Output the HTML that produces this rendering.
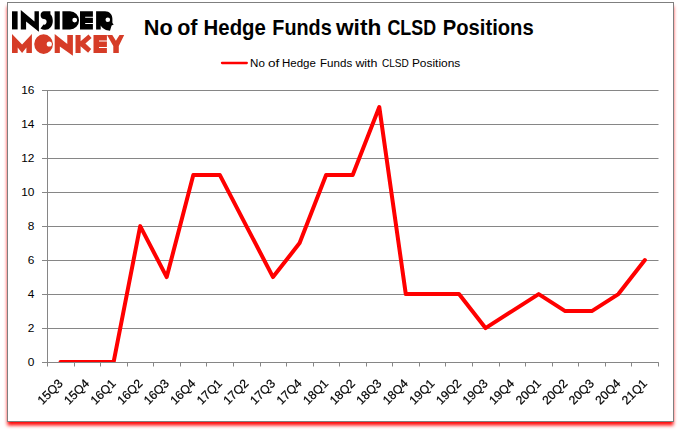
<!DOCTYPE html>
<html><head><meta charset="utf-8"><style>
html,body{margin:0;padding:0;background:#fff;}
body{width:680px;height:433px;position:relative;overflow:hidden;font-family:"Liberation Sans",sans-serif;}
#box{position:absolute;left:7px;top:2px;width:665px;height:418px;border:1px solid #7f7f7f;background:#fff;box-shadow:-0.4px 4.4px 3.6px 0px #ff0000;}
.ax{font-family:"Liberation Sans",sans-serif;font-size:11px;fill:#000;}
.xl{font-family:"Liberation Sans",sans-serif;font-size:12.2px;fill:#000;stroke:#000;stroke-width:0.2px;}
.lg{font-family:"Liberation Sans",sans-serif;font-size:11.65px;fill:#000;}
.tt{font-family:"Liberation Sans",sans-serif;font-size:21.5px;font-weight:bold;fill:#000;}
</style></head><body>
<div id="box"></div>
<svg width="680" height="433" viewBox="0 0 680 433" style="position:absolute;left:0;top:0">
<defs><clipPath id="pc"><rect x="47.5" y="80.5" width="611.0" height="282.0"/></clipPath></defs>
<line x1="42.0" y1="362.5" x2="658.5" y2="362.5" stroke="#868686" stroke-width="1"/>
<line x1="42.0" y1="328.5" x2="658.5" y2="328.5" stroke="#868686" stroke-width="1"/>
<line x1="42.0" y1="294.5" x2="658.5" y2="294.5" stroke="#868686" stroke-width="1"/>
<line x1="42.0" y1="260.5" x2="658.5" y2="260.5" stroke="#868686" stroke-width="1"/>
<line x1="42.0" y1="226.5" x2="658.5" y2="226.5" stroke="#868686" stroke-width="1"/>
<line x1="42.0" y1="192.5" x2="658.5" y2="192.5" stroke="#868686" stroke-width="1"/>
<line x1="42.0" y1="158.5" x2="658.5" y2="158.5" stroke="#868686" stroke-width="1"/>
<line x1="42.0" y1="124.5" x2="658.5" y2="124.5" stroke="#868686" stroke-width="1"/>
<line x1="42.0" y1="90.5" x2="658.5" y2="90.5" stroke="#868686" stroke-width="1"/>
<line x1="47.5" y1="90.5" x2="47.5" y2="362.5" stroke="#868686" stroke-width="1"/>
<line x1="47.5" y1="362.5" x2="47.5" y2="366.5" stroke="#868686" stroke-width="1"/>
<line x1="74.5" y1="362.5" x2="74.5" y2="366.5" stroke="#868686" stroke-width="1"/>
<line x1="100.5" y1="362.5" x2="100.5" y2="366.5" stroke="#868686" stroke-width="1"/>
<line x1="127.5" y1="362.5" x2="127.5" y2="366.5" stroke="#868686" stroke-width="1"/>
<line x1="153.5" y1="362.5" x2="153.5" y2="366.5" stroke="#868686" stroke-width="1"/>
<line x1="180.5" y1="362.5" x2="180.5" y2="366.5" stroke="#868686" stroke-width="1"/>
<line x1="206.5" y1="362.5" x2="206.5" y2="366.5" stroke="#868686" stroke-width="1"/>
<line x1="233.5" y1="362.5" x2="233.5" y2="366.5" stroke="#868686" stroke-width="1"/>
<line x1="260.5" y1="362.5" x2="260.5" y2="366.5" stroke="#868686" stroke-width="1"/>
<line x1="286.5" y1="362.5" x2="286.5" y2="366.5" stroke="#868686" stroke-width="1"/>
<line x1="313.5" y1="362.5" x2="313.5" y2="366.5" stroke="#868686" stroke-width="1"/>
<line x1="339.5" y1="362.5" x2="339.5" y2="366.5" stroke="#868686" stroke-width="1"/>
<line x1="366.5" y1="362.5" x2="366.5" y2="366.5" stroke="#868686" stroke-width="1"/>
<line x1="392.5" y1="362.5" x2="392.5" y2="366.5" stroke="#868686" stroke-width="1"/>
<line x1="419.5" y1="362.5" x2="419.5" y2="366.5" stroke="#868686" stroke-width="1"/>
<line x1="445.5" y1="362.5" x2="445.5" y2="366.5" stroke="#868686" stroke-width="1"/>
<line x1="472.5" y1="362.5" x2="472.5" y2="366.5" stroke="#868686" stroke-width="1"/>
<line x1="499.5" y1="362.5" x2="499.5" y2="366.5" stroke="#868686" stroke-width="1"/>
<line x1="525.5" y1="362.5" x2="525.5" y2="366.5" stroke="#868686" stroke-width="1"/>
<line x1="552.5" y1="362.5" x2="552.5" y2="366.5" stroke="#868686" stroke-width="1"/>
<line x1="578.5" y1="362.5" x2="578.5" y2="366.5" stroke="#868686" stroke-width="1"/>
<line x1="605.5" y1="362.5" x2="605.5" y2="366.5" stroke="#868686" stroke-width="1"/>
<line x1="631.5" y1="362.5" x2="631.5" y2="366.5" stroke="#868686" stroke-width="1"/>
<line x1="658.5" y1="362.5" x2="658.5" y2="366.5" stroke="#868686" stroke-width="1"/>
<text transform="translate(34.4,365.9) scale(1.084,1)" text-anchor="end" class="ax">0</text>
<text transform="translate(34.4,331.9) scale(1.084,1)" text-anchor="end" class="ax">2</text>
<text transform="translate(34.4,297.9) scale(1.084,1)" text-anchor="end" class="ax">4</text>
<text transform="translate(34.4,263.9) scale(1.084,1)" text-anchor="end" class="ax">6</text>
<text transform="translate(34.4,229.9) scale(1.084,1)" text-anchor="end" class="ax">8</text>
<text transform="translate(34.4,195.9) scale(1.084,1)" text-anchor="end" class="ax">10</text>
<text transform="translate(34.4,161.9) scale(1.084,1)" text-anchor="end" class="ax">12</text>
<text transform="translate(34.4,127.9) scale(1.084,1)" text-anchor="end" class="ax">14</text>
<text transform="translate(34.4,93.9) scale(1.084,1)" text-anchor="end" class="ax">16</text>
<polyline points="60.5,362.1 87.0,362.1 113.6,362.1 140.2,226.1 166.7,277.1 193.3,175.1 219.9,175.1 246.4,226.1 273.0,277.1 299.6,243.1 326.1,175.1 352.7,175.1 379.3,107.1 405.8,294.1 432.4,294.1 459.0,294.1 485.5,328.1 512.1,311.1 538.7,294.1 565.2,311.1 591.8,311.1 618.4,294.1 644.9,260.1" fill="none" stroke="#ff0000" stroke-width="4" stroke-linejoin="round" stroke-linecap="round" clip-path="url(#pc)"/>
<line x1="42.0" y1="362.5" x2="658.5" y2="362.5" stroke="#868686" stroke-width="1"/>
<line x1="222" y1="63" x2="246.8" y2="63" stroke="#ff0000" stroke-width="2.3" stroke-linecap="round"/>
<text transform="translate(250.11,66.8) scale(0.9944,1)" x="0" y="0" class="lg">No</text>
<text transform="translate(267.92,66.8) scale(1.1676,1)" x="0" y="0" class="lg">of</text>
<text transform="translate(282.01,66.8) scale(0.9856,1)" x="0" y="0" class="lg">Hedge</text>
<text transform="translate(320.01,66.8) scale(0.9935,1)" x="0" y="0" class="lg">Funds</text>
<text transform="translate(355.40,66.8) scale(1.0650,1)" x="0" y="0" class="lg">with</text>
<text transform="translate(381.96,66.8) scale(0.8636,1)" x="0" y="0" class="lg">CLSD</text>
<text transform="translate(411.88,66.8) scale(1.0245,1)" x="0" y="0" class="lg">Positions</text>
<text transform="translate(143.71,35) scale(1.0113,1)" x="0" y="0" class="tt">No</text>
<text transform="translate(177.22,35) scale(1.0000,1)" x="0" y="0" class="tt">of</text>
<text transform="translate(203.60,35) scale(0.9477,1)" x="0" y="0" class="tt">Hedge</text>
<text transform="translate(272.33,35) scale(0.9205,1)" x="0" y="0" class="tt">Funds</text>
<text transform="translate(336.00,35) scale(1.0547,1)" x="0" y="0" class="tt">with</text>
<text transform="translate(387.47,35) scale(0.8300,1)" x="0" y="0" class="tt">CLSD</text>
<text transform="translate(442.71,35) scale(0.9407,1)" x="0" y="0" class="tt">Positions</text>
</svg>
<svg width="680" height="433" viewBox="0 0 680 433" style="position:absolute;left:0;top:0;will-change:transform">
<text transform="translate(57.3,378.0) rotate(-45)" text-anchor="end" class="xl" dominant-baseline="hanging">15Q3</text>
<text transform="translate(83.8,378.0) rotate(-45)" text-anchor="end" class="xl" dominant-baseline="hanging">15Q4</text>
<text transform="translate(110.4,378.0) rotate(-45)" text-anchor="end" class="xl" dominant-baseline="hanging">16Q1</text>
<text transform="translate(137.0,378.0) rotate(-45)" text-anchor="end" class="xl" dominant-baseline="hanging">16Q2</text>
<text transform="translate(163.5,378.0) rotate(-45)" text-anchor="end" class="xl" dominant-baseline="hanging">16Q3</text>
<text transform="translate(190.1,378.0) rotate(-45)" text-anchor="end" class="xl" dominant-baseline="hanging">16Q4</text>
<text transform="translate(216.7,378.0) rotate(-45)" text-anchor="end" class="xl" dominant-baseline="hanging">17Q1</text>
<text transform="translate(243.2,378.0) rotate(-45)" text-anchor="end" class="xl" dominant-baseline="hanging">17Q2</text>
<text transform="translate(269.8,378.0) rotate(-45)" text-anchor="end" class="xl" dominant-baseline="hanging">17Q3</text>
<text transform="translate(296.4,378.0) rotate(-45)" text-anchor="end" class="xl" dominant-baseline="hanging">17Q4</text>
<text transform="translate(322.9,378.0) rotate(-45)" text-anchor="end" class="xl" dominant-baseline="hanging">18Q1</text>
<text transform="translate(349.5,378.0) rotate(-45)" text-anchor="end" class="xl" dominant-baseline="hanging">18Q2</text>
<text transform="translate(376.1,378.0) rotate(-45)" text-anchor="end" class="xl" dominant-baseline="hanging">18Q3</text>
<text transform="translate(402.6,378.0) rotate(-45)" text-anchor="end" class="xl" dominant-baseline="hanging">18Q4</text>
<text transform="translate(429.2,378.0) rotate(-45)" text-anchor="end" class="xl" dominant-baseline="hanging">19Q1</text>
<text transform="translate(455.8,378.0) rotate(-45)" text-anchor="end" class="xl" dominant-baseline="hanging">19Q2</text>
<text transform="translate(482.3,378.0) rotate(-45)" text-anchor="end" class="xl" dominant-baseline="hanging">19Q3</text>
<text transform="translate(508.9,378.0) rotate(-45)" text-anchor="end" class="xl" dominant-baseline="hanging">19Q4</text>
<text transform="translate(535.5,378.0) rotate(-45)" text-anchor="end" class="xl" dominant-baseline="hanging">20Q1</text>
<text transform="translate(562.0,378.0) rotate(-45)" text-anchor="end" class="xl" dominant-baseline="hanging">20Q2</text>
<text transform="translate(588.6,378.0) rotate(-45)" text-anchor="end" class="xl" dominant-baseline="hanging">20Q3</text>
<text transform="translate(615.2,378.0) rotate(-45)" text-anchor="end" class="xl" dominant-baseline="hanging">20Q4</text>
<text transform="translate(641.7,378.0) rotate(-45)" text-anchor="end" class="xl" dominant-baseline="hanging">21Q1</text>
</svg>
<svg width="140" height="70" viewBox="0 0 140 70" style="position:absolute;left:0;top:0">
<g fill="#000">
<rect x="12" y="11.3" width="5.6" height="18.1"/>
<path d="M20.8,10 L34.5,21.5 L34.5,11.3 L38.9,11.3 L38.9,31.8 L26.1,21.6 L26.1,29.4 L20.8,29.4 Z"/>
<path d="M44,11.3 L50.4,11.3 L50.4,14.2 C52,15.5 52.8,18 52.8,21 C52.8,26 49.5,29.8 45.5,29.8 C43.5,29.8 41.8,29.3 40.5,28.4 L43.5,24.6 C45.5,25 46.6,23.5 46.6,21.8 C46.6,20 45.5,19 44,19 C42,19 40.6,17.3 40.6,15.2 C40.6,13 42,11.3 44,11.3 Z"/>
<rect x="54.6" y="11.3" width="5.2" height="18.1"/>
<path fill-rule="evenodd" d="M62.4,11.3 L70,11.3 A9.05,9.05 0 0 1 70,29.4 L62.4,29.4 Z M77.1,20.1 A2.4,2.4 0 1 0 72.3,20.1 A2.4,2.4 0 1 0 77.1,20.1 Z"/>
<path d="M80,11.3 H92.9 V16.8 H85.2 V17.8 H92.9 V23.1 H85.2 V24.1 H92.9 V29.4 H80 Z"/>
<path fill-rule="evenodd" d="M96.1,11.2 L105,11.2 C109.5,11.2 112.4,14.5 112.4,18.7 L112.4,23 L113.7,24.4 L111.6,25.4 L110,30.7 L106,30 C103.5,29 101.5,27.5 100.7,25.6 L100.7,29.4 L96.1,29.4 Z M110.1,19.7 A2.3,2.3 0 1 0 105.5,19.7 A2.3,2.3 0 1 0 110.1,19.7 Z"/>
</g>
<g fill="#d63c27">
<path d="M12,34 L22.1,44.5 L31.9,34 L31.9,53 L26.4,53 L26.4,47.5 L22.1,53 L17.7,47.5 L17.7,53 L12,53 Z"/>
<path fill-rule="evenodd" d="M53,44.1 A9.4,9.85 0 1 0 34.2,44.1 A9.4,9.85 0 1 0 53,44.1 Z M51.9,44 A2.6,2.6 0 1 0 46.7,44 A2.6,2.6 0 1 0 51.9,44 Z"/>
<path d="M54.7,34 L67.3,43.9 L67.3,35 L72.9,35 L72.9,55.7 L59.85,46.6 L59.85,52.9 L54.7,52.9 Z"/>
<path d="M75.5,35.1 H80.6 V41.2 L88.5,34.4 L91.6,37.9 L85.4,43.5 L91.2,49 L88.1,52.8 L80.6,46.2 V53.1 H75.5 Z"/>
<path d="M93.5,35 H106.9 V40.4 H99 V41.4 H106.9 V47 H99 V47.9 H106.9 V52.9 H93.5 Z"/>
<path d="M107,35 L112.3,35 L115.9,40.7 L119.5,35 L124.2,35 L118.8,46 L118.8,52.9 L113.3,52.9 L113.3,46 Z"/>
</g>
</svg>

</body></html>
